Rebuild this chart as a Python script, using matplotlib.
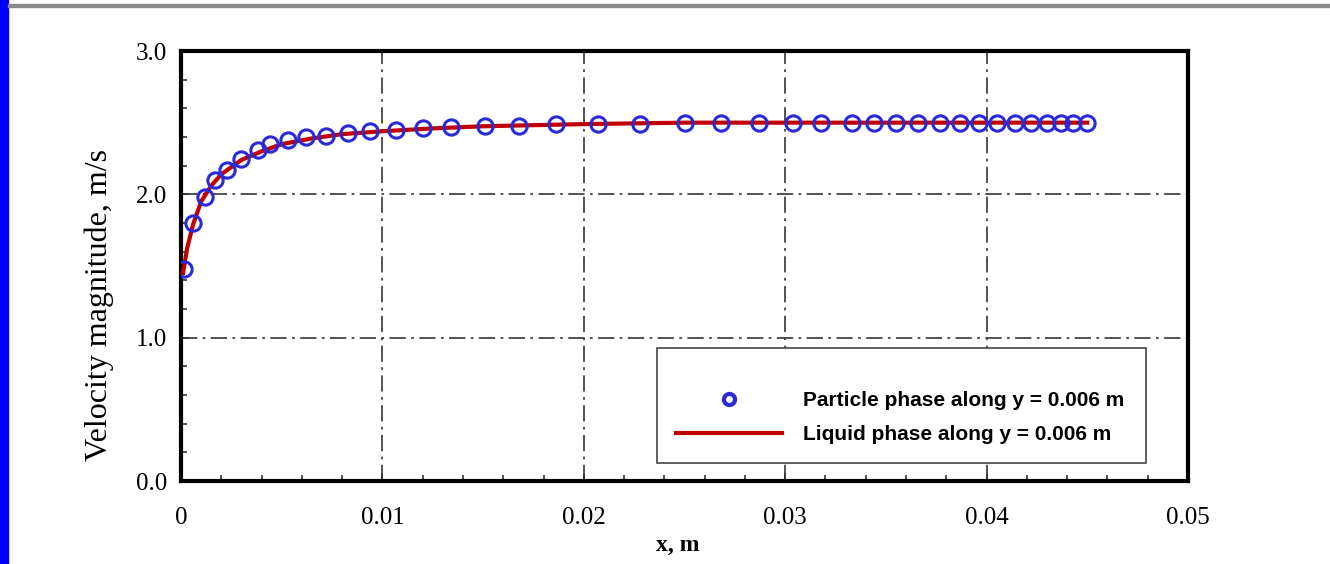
import numpy as np
import matplotlib.pyplot as plt
from matplotlib.lines import Line2D
from matplotlib.patches import Rectangle
from matplotlib.ticker import MultipleLocator

#%% data

x_particle = [0.00015, 0.0006, 0.0012, 0.0017, 0.0023, 0.0030, 0.0038, 0.0044,
              0.0053, 0.0062, 0.0072, 0.0083, 0.0094, 0.0107, 0.0120, 0.0134,
              0.0151, 0.0168, 0.0186, 0.0207, 0.0228, 0.0250, 0.0268, 0.0287,
              0.0304, 0.0318, 0.0333, 0.0344, 0.0355, 0.0366, 0.0377, 0.0387,
              0.0396, 0.0405, 0.0414, 0.0422, 0.0430, 0.0437, 0.0443, 0.0450]
y_particle = [1.48, 1.80, 1.98, 2.10, 2.17, 2.25, 2.31, 2.35,
              2.38, 2.40, 2.41, 2.43, 2.44, 2.45, 2.46, 2.47,
              2.48, 2.48, 2.49, 2.49, 2.49, 2.50, 2.50, 2.50,
              2.50, 2.50, 2.50, 2.50, 2.50, 2.50, 2.50, 2.50,
              2.50, 2.50, 2.50, 2.50, 2.50, 2.50, 2.50, 2.50]

x_liquid = [0.0001, 0.0003, 0.0006, 0.0010, 0.0015, 0.0020, 0.0030, 0.0040,
            0.0050, 0.0065, 0.0080, 0.0100, 0.0125, 0.0150, 0.0200, 0.0250,
            0.0300, 0.0350, 0.0400, 0.0450]
y_liquid = [1.45, 1.62, 1.79, 1.95, 2.06, 2.14, 2.24, 2.30,
            2.35, 2.39, 2.42, 2.44, 2.46, 2.475, 2.49, 2.50,
            2.50, 2.50, 2.50, 2.50]

x_ticks = [0, 0.01, 0.02, 0.03, 0.04, 0.05]
x_ticklabels = ['0', '0.01', '0.02', '0.03', '0.04', '0.05']
y_ticks = [0.0, 1.0, 2.0, 3.0]
y_ticklabels = ['0.0', '1.0', '2.0', '3.0']

lab_particle = 'Particle phase along y = 0.006 m'
lab_liquid = 'Liquid phase along y = 0.006 m'

#%% figure

serif = ['Liberation Serif', 'DejaVu Serif']
sans = ['Liberation Sans Narrow', 'Liberation Sans', 'DejaVu Sans']

fig = plt.figure(figsize=(13.3, 5.64), dpi=100)
W, H = 1330, 564

# blue bar on the left and gray rule on top
fig.patches.append(Rectangle((0, 0), 8 / W, 1, transform=fig.transFigure,
                             color='#0000ff', zorder=0))
fig.patches.append(Rectangle((8 / W, 1 - 7 / H), 1, 3 / H, transform=fig.transFigure,
                             color='#8a8a8a', zorder=0))

ax = fig.add_axes([181 / W, 83 / H, 1007 / W, 430 / H])

ax.plot(x_liquid, y_liquid, color='#c00000', lw=3, zorder=3)
ax.plot(x_particle, y_particle, 'o', ms=11, mfc='none', mec='#2a2ad8', mew=2.2, zorder=4)

ax.set_xlim(0, 0.05)
ax.set_ylim(0, 3.0)
ax.set_xticks(x_ticks)
ax.set_xticklabels(x_ticklabels, fontfamily=serif, fontsize=18)
ax.set_yticks(y_ticks)
ax.set_yticklabels(y_ticklabels, fontfamily=serif, fontsize=18)
ax.xaxis.set_minor_locator(MultipleLocator(0.002))
ax.yaxis.set_minor_locator(MultipleLocator(0.2))
ax.tick_params(which='both', direction='in', color='#333333')
ax.tick_params(which='major', length=6, width=1.2)
ax.tick_params(which='minor', length=4, width=1.2)
ax.tick_params(axis='x', pad=19)
ax.tick_params(axis='y', pad=10)

ax.grid(True, which='major', color='#444444', lw=1.3,
        linestyle=(0, (9, 3, 1.5, 3)))

for s in ax.spines.values():
    s.set_linewidth(3)
    s.set_color('black')

ax.set_xlabel('x, m', fontfamily=serif, fontsize=17, fontweight='bold')
ax.xaxis.set_label_coords(0.493, -0.125)
ax.set_ylabel('Velocity magnitude, m/s', fontfamily=serif, fontsize=23)
ax.yaxis.set_label_coords(-0.067, 0.41)

handles = [Line2D([], [], ls='none', marker='o', ms=8, mfc='white', mec='#2a2ad8', mew=3),
           Line2D([], [], color='#c00000', lw=3)]
leg = ax.legend(handles, [lab_particle, lab_liquid], loc='lower left',
                bbox_to_anchor=(0.473, 0.042, 0.485, 0.263), mode='expand',
                prop={'family': sans, 'size': 15, 'weight': 'bold'},
                title=' ', title_fontproperties={'size': 6},
                handlelength=5.1, handletextpad=1.0, borderpad=0.9,
                labelspacing=0.73, borderaxespad=0, fancybox=False,
                framealpha=1, edgecolor='#444444')
leg.get_frame().set_linewidth(1.2)
leg.set_zorder(5)

plt.savefig('out.png', dpi=100)
